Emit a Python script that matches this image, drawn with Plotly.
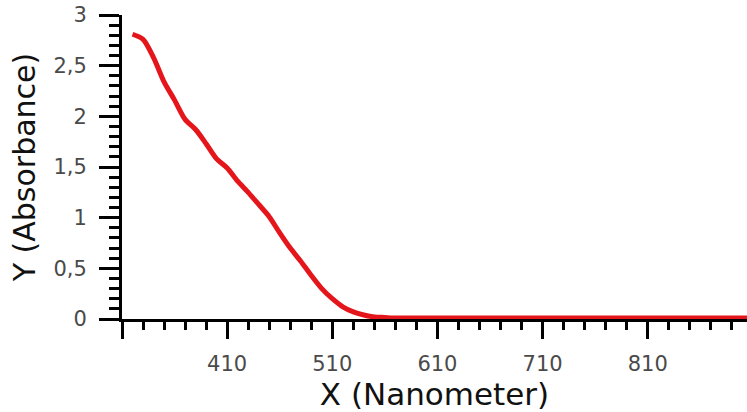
import plotly.graph_objects as go

# Absorption spectrum, sampled every 10 nm
wavelength_nm = [
    320, 330, 340, 350, 360, 370, 380, 390, 400, 410,
    420, 430, 440, 450, 460, 470, 480, 490, 500, 510,
    520, 530, 540, 550, 560, 570, 580, 590, 600, 610,
    620, 630, 640, 650, 660, 670, 680, 690, 700, 710,
    720, 730, 740, 750, 760, 770, 780, 790, 800, 810,
    820, 830, 840, 850, 860, 870, 880, 890, 900, 910,
]
absorbance = [
    2.81, 2.76, 2.58, 2.34, 2.16, 1.97, 1.87, 1.73, 1.58, 1.49,
    1.36, 1.25, 1.13, 1.01, 0.85, 0.70, 0.57, 0.43, 0.30, 0.20,
    0.12, 0.07, 0.04, 0.02, 0.015, 0.01, 0.01, 0.01, 0.01, 0.01,
    0.01, 0.01, 0.01, 0.01, 0.01, 0.01, 0.01, 0.01, 0.01, 0.01,
    0.01, 0.01, 0.01, 0.01, 0.01, 0.01, 0.01, 0.01, 0.01, 0.01,
    0.01, 0.01, 0.01, 0.01, 0.01, 0.01, 0.01, 0.01, 0.01, 0.01,
]

x_tick_vals = [310, 410, 510, 610, 710, 810]
x_tick_text = ["", "410", "510", "610", "710", "810"]
y_tick_vals = [0, 0.5, 1, 1.5, 2, 2.5, 3]
y_tick_text = ["0", "0,5", "1", "1,5", "2", "2,5", "3"]

FONT = "DejaVu Sans"

fig = go.Figure(
    go.Scatter(
        x=wavelength_nm,
        y=absorbance,
        mode="lines",
        line=dict(color="#e5161b", width=5, shape="spline", smoothing=0.8),
        hoverinfo="skip",
    )
)

fig.update_layout(
    width=747,
    height=412,
    margin=dict(l=122, r=0, t=15, b=93),
    paper_bgcolor="white",
    plot_bgcolor="white",
    showlegend=False,
    font=dict(family=FONT, color="#4a4a4a"),
)

fig.update_xaxes(
    range=[310, 904.4],
    tickmode="array",
    tickvals=x_tick_vals,
    ticktext=x_tick_text,
    ticks="outside",
    ticklen=17,
    tickwidth=3,
    tickcolor="black",
    tickfont=dict(family=FONT, size=21, color="#4a4a4a"),
    ticklabelstandoff=7,
    minor=dict(ticks="outside", tick0=310, dtick=20, ticklen=8, tickwidth=3, tickcolor="black", showgrid=False),
    showline=True,
    linewidth=3,
    linecolor="black",
    showgrid=False,
    zeroline=False,
    title=dict(text="X (Nanometer)", font=dict(family=FONT, size=31, color="#111111"), standoff=11),
)

fig.update_yaxes(
    range=[0, 3],
    tickmode="array",
    tickvals=y_tick_vals,
    ticktext=y_tick_text,
    ticks="outside",
    ticklen=20,
    tickwidth=3,
    tickcolor="black",
    tickfont=dict(family=FONT, size=21, color="#4a4a4a"),
    ticklabelstandoff=8,
    minor=dict(ticks="outside", tick0=0, dtick=0.1, ticklen=10, tickwidth=3, tickcolor="black", showgrid=False),
    showline=True,
    linewidth=3,
    linecolor="black",
    showgrid=False,
    zeroline=False,
    title=dict(text="Y (Absorbance)", font=dict(family=FONT, size=30, color="#111111"), standoff=9),
)

fig.write_html("out.html")
